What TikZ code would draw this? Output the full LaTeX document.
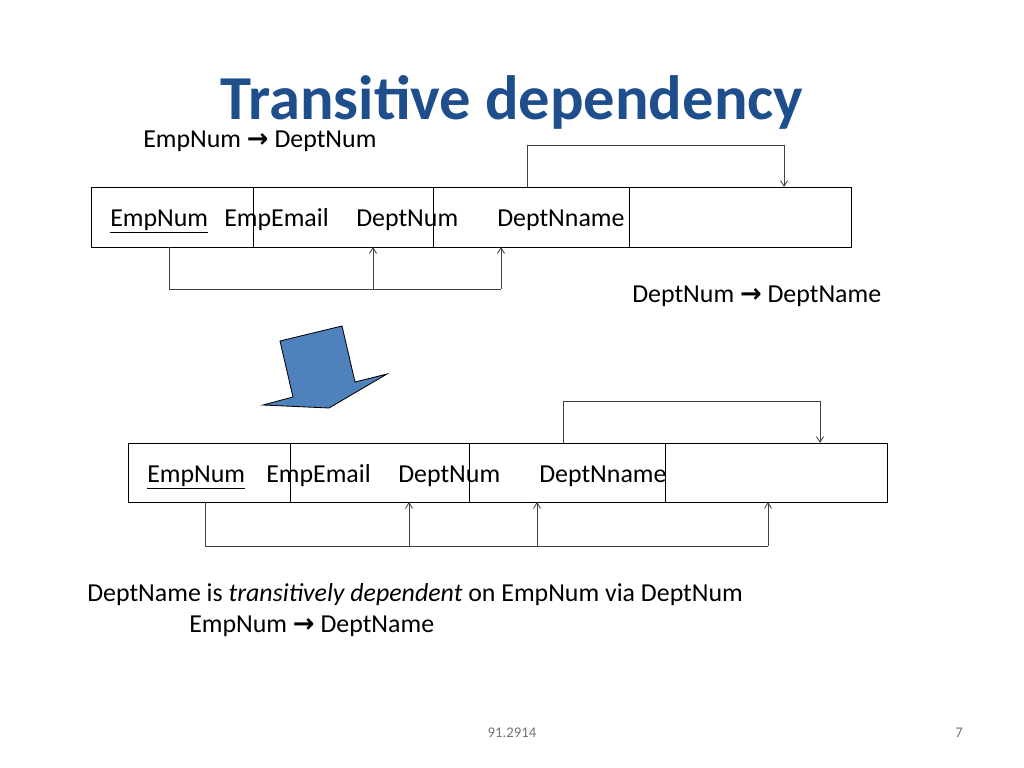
\documentclass[tikz,border=0pt]{standalone}
\usepackage{fontspec}
\usetikzlibrary{arrows.meta}
\setmainfont{Carlito}
\newfontfamily\arr{DejaVu Sans}
\definecolor{titleblue}{HTML}{1F4E8C}
\definecolor{arrowblue}{HTML}{4F81BD}
\newcommand{\ra}{{\arr\bfseries →}}
\begin{document}
\begin{tikzpicture}[x=0.025cm,y=-0.025cm,
  txt/.style={anchor=base west,inner sep=0pt,font=\fontsize{18.4pt}{22pt}\selectfont},
  cell/.style={draw,line width=0.6pt},
  conn/.style={draw=black!75,line width=0.6pt},
  tip/.style={conn,-{Straight Barb[length=4pt,width=5pt]}}]
\useasboundingbox (0,0) rectangle (1024,768);
\node[font=\fontsize{44.5pt}{50pt}\selectfont\bfseries,text=titleblue] (title) at (512,102) {Transitive dependency};
\node[txt] (fd1) at (143,148) {EmpNum \ra{} DeptNum};
% top table
\draw[cell] (91,187) rectangle (851,247);
\foreach \x in {253,433,629} \draw[cell] (\x,187) -- (\x,247);
\node[txt] (a1) at (110,226) {\underline{EmpNum}};
\node[txt] (a2) at (224,226) {EmpEmail};
\node[txt] (a3) at (356,226) {DeptNum};
\node[txt] (a4) at (497,226) {DeptNname};
\coordinate (t1) at (169,247); \coordinate (t2) at (373,247); \coordinate (t3) at (501,247);
\draw[conn] (t1) -- (169,289) -- (501,289);
\draw[tip] (373,289) -- (t2);
\draw[tip] (501,289) -- (t3);
\coordinate (u1) at (527,187); \coordinate (u2) at (784,187);
\draw[tip] (u1) -- (527,145) -- (784,145) -- (u2);
\node[txt] (fd2) at (632,302) {DeptNum \ra{} DeptName};
% big arrow
\filldraw[fill=arrowblue,draw=black,line width=0.6pt] (280,341) -- (342,326) -- (355,382) -- (387,374) -- (329,408) -- (263,405) -- (293,397) -- cycle;
% bottom table
\draw[cell] (128,443) rectangle (887,502);
\foreach \x in {290,469,665} \draw[cell] (\x,443) -- (\x,502);
\node[txt] (b1) at (147,482) {\underline{EmpNum}};
\node[txt] (b2) at (266,482) {EmpEmail};
\node[txt] (b3) at (398,482) {DeptNum};
\node[txt] (b4) at (539,482) {DeptNname};
\coordinate (s1) at (205,502); \coordinate (s2) at (409,502); \coordinate (s3) at (537,502); \coordinate (s4) at (768,502);
\draw[conn] (s1) -- (205,546) -- (768,546);
\draw[tip] (409,546) -- (s2);
\draw[tip] (537,546) -- (s3);
\draw[tip] (768,546) -- (s4);
\coordinate (v1) at (563,443); \coordinate (v2) at (820,443);
\draw[tip] (v1) -- (563,401) -- (820,401) -- (v2);
\node[txt] (l1) at (87,601) {DeptName is \textit{transitively dependent} on EmpNum via DeptNum};
\node[txt] (l2) at (189,632) {EmpNum \ra{} DeptName};
\node[font=\fontsize{10.5pt}{12pt}\selectfont,text=black!55] (f1) at (512,733) {91.2914};
\node[font=\fontsize{10.5pt}{12pt}\selectfont,text=black!55] (f2) at (959,733) {7};
\end{tikzpicture}
\end{document}
